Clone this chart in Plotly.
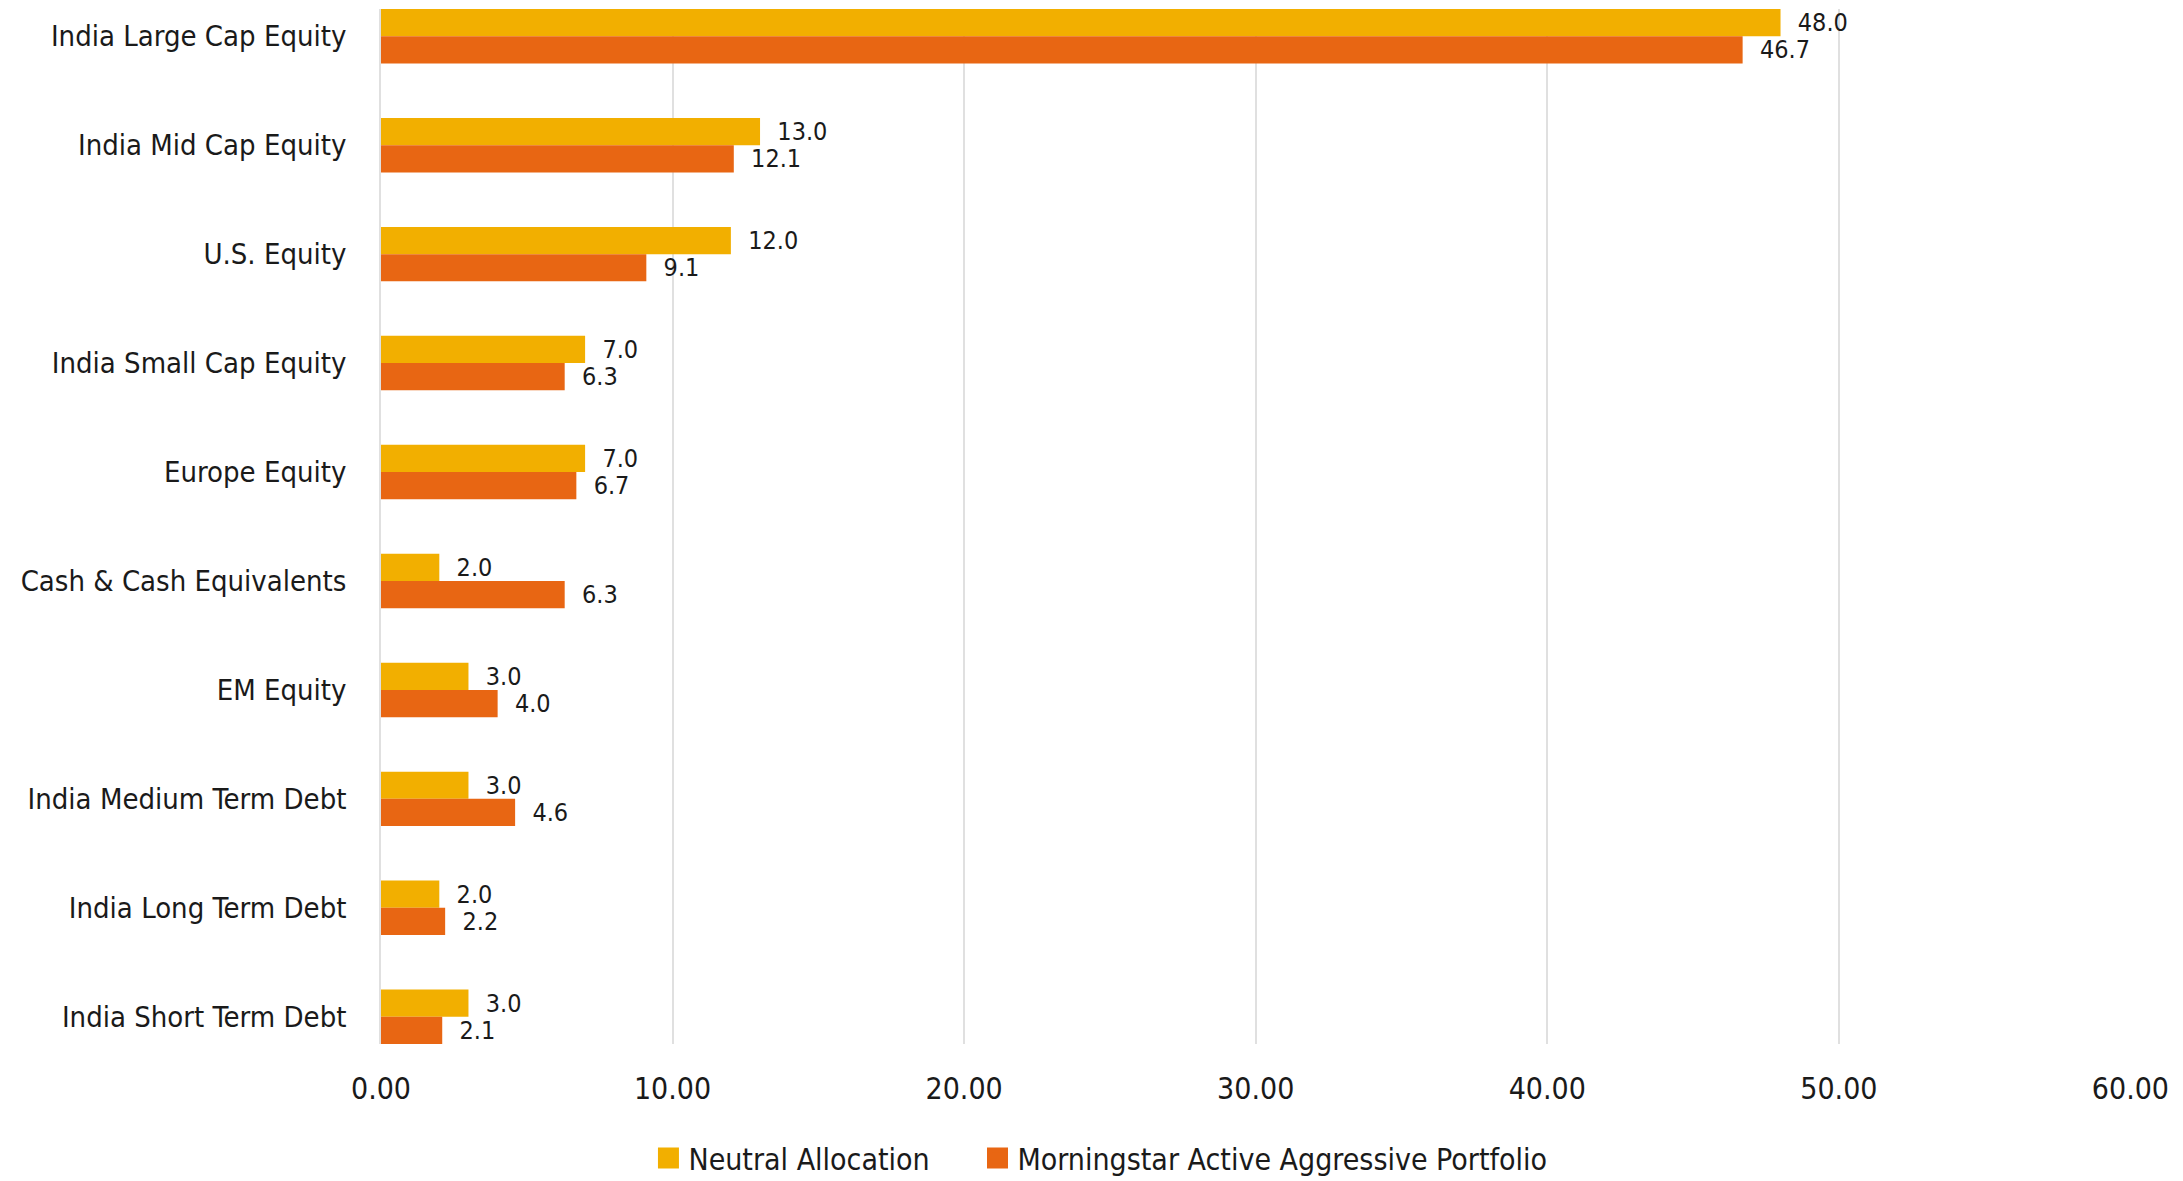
import plotly.graph_objects as go

# Asset classes, top to bottom
categories = [
    "India Large Cap Equity",
    "India Mid Cap Equity",
    "U.S. Equity",
    "India Small Cap Equity",
    "Europe Equity",
    "Cash & Cash Equivalents",
    "EM Equity",
    "India Medium Term Debt",
    "India Long Term Debt",
    "India Short Term Debt",
]

neutral_allocation = [48.0, 13.0, 12.0, 7.0, 7.0, 2.0, 3.0, 3.0, 2.0, 3.0]
active_aggressive = [46.7, 12.1, 9.1, 6.3, 6.7, 6.3, 4.0, 4.6, 2.2, 2.1]

series_names = ["Neutral Allocation", "Morningstar Active Aggressive Portfolio"]

x_ticks = [0, 10, 20, 30, 40, 50, 60]
x_tick_labels = ["0.00", "10.00", "20.00", "30.00", "40.00", "50.00", "60.00"]

FONT = "DejaVu Sans Condensed, sans-serif"
TEXT = "#1a1a1a"
YELLOW = "#F2AF00"
ORANGE = "#E86613"
LABEL_PAD = "\u00a0\u00a0"
LEGEND_GAP = "\u00a0" * 5

fig = go.Figure()
for name, values, color in [
    (series_names[0], neutral_allocation, YELLOW),
    (series_names[1], active_aggressive, ORANGE),
]:
    fig.add_trace(go.Bar(
        name=name,
        y=categories,
        x=values,
        orientation="h",
        marker=dict(color=color, line=dict(width=0)),
        texttemplate=LABEL_PAD + "%{x:.1f}",
        textposition="outside",
        constraintext="none",
        textfont=dict(family=FONT, size=25, color=TEXT),
        cliponaxis=False,
        showlegend=False,
    ))

# Legend entries with larger square swatches
legend_labels = [series_names[0] + LEGEND_GAP, series_names[1]]
for label, color in [(legend_labels[0], YELLOW), (legend_labels[1], ORANGE)]:
    fig.add_trace(go.Scatter(
        name=label,
        x=[None],
        y=[None],
        mode="markers",
        marker=dict(symbol="square", size=16, color=color,
                    line=dict(color=color, width=5)),
        showlegend=True,
    ))

fig.update_layout(
    width=2183,
    height=1181,
    margin=dict(l=381, r=52, t=9, b=137),
    paper_bgcolor="white",
    plot_bgcolor="white",
    barmode="group",
    bargap=0.5,
    bargroupgap=0,
    font=dict(family=FONT, color=TEXT),
    xaxis=dict(
        range=[0, 60.02],
        tickvals=x_ticks,
        ticktext=x_tick_labels,
        showgrid=True,
        gridcolor="#e0e0e0",
        gridwidth=1.5,
        zeroline=False,
        showline=False,
        ticks="",
        tickfont=dict(family=FONT, size=30, color=TEXT),
        ticklabelstandoff=24,
        automargin=False,
        fixedrange=True,
    ),
    yaxis=dict(
        type="category",
        categoryorder="array",
        categoryarray=categories,
        range=[9.25, -0.25],
        showgrid=False,
        zeroline=False,
        showline=True,
        linecolor="#e0e0e0",
        linewidth=1.5,
        ticks="",
        tickfont=dict(family=FONT, size=29, color=TEXT),
        ticklabelstandoff=27,
        automargin=False,
        fixedrange=True,
    ),
    legend=dict(
        orientation="h",
        xref="container",
        yref="container",
        x=0.5041,
        xanchor="center",
        y=1 - 1158 / 1181,
        yanchor="middle",
        font=dict(family=FONT, size=30, color=TEXT),
        itemsizing="trace",
        traceorder="normal",
    ),
    showlegend=True,
)

fig.write_html("out.html")
